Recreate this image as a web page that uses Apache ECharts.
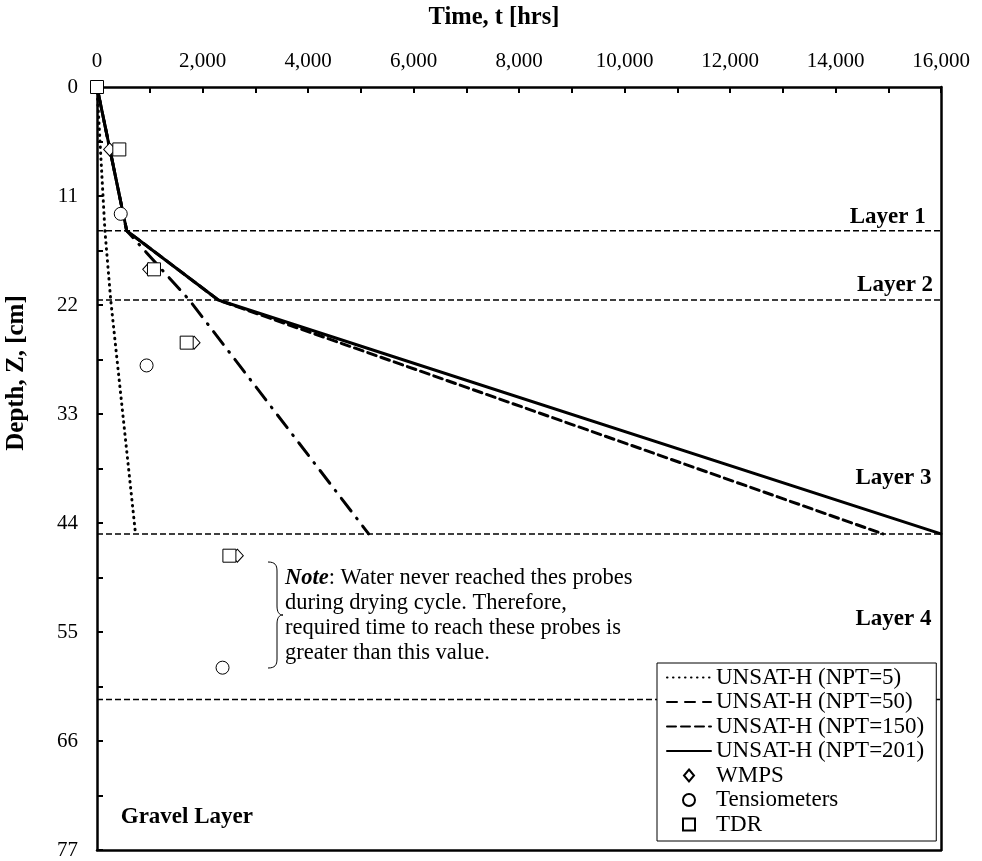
<!DOCTYPE html>
<html>
<head>
<meta charset="utf-8">
<script src="https://cdn.jsdelivr.net/npm/echarts@6/dist/echarts.min.js"></script>
<style>
html,body{margin:0;padding:0;background:#fff;}
#chart{width:982px;height:861px;}
</style>
</head>
<body>
<div id="chart"></div>
<script>
// ---- data ----
const layerDepths = [14.5, 21.5, 45.1, 61.8];
const layerNames = ['Layer 1', 'Layer 2', 'Layer 3', 'Layer 4', 'Gravel Layer'];

const npt5T   = [0, 150, 260, 730];
const npt5Z   = [0, 14.5, 21.5, 45.1];
const npt50T  = [0, 563, 1750, 5150];
const npt50Z  = [0, 14.5, 21.5, 45.1];
const npt150T = [0, 563, 2300, 14900];
const npt150Z = [0, 14.5, 21.5, 45.1];
const npt201T = [0, 563, 2300, 16000];
const npt201Z = [0, 14.5, 21.5, 45.1];

const wmpsT = [240, 980, 1840, 2660];
const wmpsZ = [6.3, 18.4, 25.8, 47.3];
const tensT = [450, 940, 2380];
const tensZ = [12.8, 28.1, 58.6];
const tdrT  = [0, 423, 1080, 1700, 2510];
const tdrZ  = [0, 6.3, 18.4, 25.8, 47.3];

const xMin = 0, xMax = 16000, xInterval = 2000;
const yMin = 0, yMax = 77, yInterval = 11;

// ---- helpers ----
const FONT = "'Liberation Serif','Times New Roman',serif";
function pairs(t, z) { return t.map((v, i) => [v, z[i]]); }
function fmt(v) { return v.toLocaleString('en-US'); }

const chart = echarts.init(document.getElementById('chart'));

const black = '#000';
const axisLineStyle = { lineStyle: { color: black, width: 2.5 } };
const RECT_ICON = 'path://M0,0L10,0L10,10L0,10Z';
const DIAMOND_ICON = 'path://M5,0L10,6L5,12L0,6Z';

const layerSeries = layerDepths.map((d, i) => ({
  name: 'layer' + i,
  type: 'line',
  data: [[xMin, d], [xMax, d]],
  symbol: 'none',
  silent: true,
  z: 1,
  lineStyle: { color: black, width: 1.5, type: [6, 3] }
}));

function lineSeries(name, t, z, lineType, width) {
  return {
    name: name, type: 'line', data: pairs(t, z), symbol: 'none', z: 3,
    lineStyle: { color: black, width: width, type: lineType, cap: 'round' },
    itemStyle: { color: black }
  };
}
function scatterSeries(name, t, z, symbol, size) {
  return {
    name: name, type: 'scatter', data: pairs(t, z), symbol: symbol, symbolSize: size,
    symbolKeepAspect: true, clip: false, z: 5,
    itemStyle: { color: '#fff', borderColor: black, borderWidth: 1, opacity: 1 }
  };
}

const labelPoint = (x, y, text, align) => ({
  value: [x, y],
  label: { show: true, formatter: text, position: [0, 0], align: align, verticalAlign: 'middle',
           fontFamily: FONT, fontWeight: 'bold', fontSize: 23, color: black }
});

const braceStyle = { fill: 'none', stroke: black, lineWidth: 1 };
const hideSym = { opacity: 0 };

const option = {
  animation: false,
  backgroundColor: '#fff',
  grid: { left: 97, right: 41, top: 87, bottom: 11, containLabel: false },
  xAxis: [{
    type: 'value', position: 'top', min: xMin, max: xMax, interval: xInterval,
    axisLine: Object.assign({ onZero: false }, axisLineStyle),
    axisTick: { show: true, inside: true, length: 6, lineStyle: { color: black, width: 2 } },
    minorTick: { show: true, splitNumber: 2, length: 6, lineStyle: { color: black, width: 2 } },
    axisLabel: { formatter: fmt, fontFamily: FONT, fontSize: 21, color: black, margin: 15,
                 showMinLabel: true, showMaxLabel: true },
    splitLine: { show: false }, minorSplitLine: { show: false }
  }, {
    type: 'value', position: 'bottom', min: xMin, max: xMax,
    axisLine: Object.assign({ onZero: false }, axisLineStyle),
    axisTick: { show: false }, axisLabel: { show: false }, splitLine: { show: false }
  }],
  yAxis: [{
    type: 'value', position: 'left', inverse: true, min: yMin, max: yMax, interval: yInterval,
    axisLine: Object.assign({ onZero: false }, axisLineStyle),
    axisTick: { show: true, inside: true, length: 6, lineStyle: { color: black, width: 2 } },
    minorTick: { show: true, splitNumber: 2, length: 6, lineStyle: { color: black, width: 2 } },
    axisLabel: { fontFamily: FONT, fontSize: 21, color: black, margin: 19,
                 showMinLabel: true, showMaxLabel: true },
    splitLine: { show: false }, minorSplitLine: { show: false }
  }, {
    type: 'value', position: 'right', inverse: true, min: yMin, max: yMax,
    axisLine: Object.assign({ onZero: false }, axisLineStyle),
    axisTick: { show: false }, axisLabel: { show: false }, splitLine: { show: false }
  }],
  legend: {
    orient: 'vertical', left: 657, top: 663,
    backgroundColor: '#fff', borderColor: black, borderWidth: 1,
    padding: [3, 12, 5, 9],
    itemWidth: 44, itemHeight: 12, itemGap: 1.5,
    textStyle: { fontFamily: FONT, fontSize: 23, color: black, lineHeight: 23 },
    data: [
      { name: 'UNSAT-H (NPT=5)', itemStyle: hideSym },
      { name: 'UNSAT-H (NPT=50)', itemStyle: hideSym, lineStyle: { type: [10, 8] } },
      { name: 'UNSAT-H (NPT=150)', itemStyle: hideSym },
      { name: 'UNSAT-H (NPT=201)', itemStyle: hideSym },
      { name: 'WMPS', icon: DIAMOND_ICON },
      { name: 'Tensiometers', icon: 'circle' },
      { name: 'TDR', icon: RECT_ICON }
    ]
  },
  series: layerSeries.concat([
    lineSeries('UNSAT-H (NPT=5)', npt5T, npt5Z, [0.5, 5.5], 3),
    lineSeries('UNSAT-H (NPT=50)', npt50T, npt50Z, [16, 9, 1, 9], 3),
    lineSeries('UNSAT-H (NPT=150)', npt150T, npt150Z, [9, 5], 3),
    lineSeries('UNSAT-H (NPT=201)', npt201T, npt201Z, 'solid', 3),
    scatterSeries('WMPS', wmpsT, wmpsZ, 'diamond', [12, 13]),
    scatterSeries('Tensiometers', tensT, tensZ, 'circle', 13),
    scatterSeries('TDR', tdrT, tdrZ, 'rect', 13),
    {
      name: 'labels', type: 'scatter', symbolSize: 0, silent: true, z: 6,
      itemStyle: { opacity: 1 },
      data: [
        labelPoint(15710, 13.1, layerNames[0], 'right'),
        labelPoint(15850, 20.0, layerNames[1], 'right'),
        labelPoint(15820, 39.5, layerNames[2], 'right'),
        labelPoint(15820, 53.7, layerNames[3], 'right'),
        labelPoint(450, 73.7, layerNames[4], 'left')
      ]
    }
  ]),
  graphic: [
    { type: 'text', x: 494, y: 18, style: { text: 'Time, t [hrs]', font: 'bold 24.5px ' + FONT, fill: black,
      textAlign: 'center', textVerticalAlign: 'middle' } },
    { type: 'text', x: 17, y: 373, rotation: Math.PI / 2, style: { text: 'Depth, Z, [cm]', font: 'bold 25px ' + FONT,
      fill: black, textAlign: 'center', textVerticalAlign: 'middle' } },
    { type: 'bezierCurve', shape: { x1: 268, y1: 562, x2: 277, y2: 571, cpx1: 275, cpy1: 562, cpx2: 277, cpy2: 565 }, style: braceStyle },
    { type: 'line', shape: { x1: 277, y1: 571, x2: 277, y2: 606 }, style: braceStyle },
    { type: 'bezierCurve', shape: { x1: 277, y1: 606, x2: 283, y2: 615, cpx1: 277, cpy1: 612, cpx2: 279, cpy2: 615 }, style: braceStyle },
    { type: 'bezierCurve', shape: { x1: 283, y1: 615, x2: 277, y2: 624, cpx1: 279, cpy1: 615, cpx2: 277, cpy2: 618 }, style: braceStyle },
    { type: 'line', shape: { x1: 277, y1: 624, x2: 277, y2: 659 }, style: braceStyle },
    { type: 'bezierCurve', shape: { x1: 277, y1: 659, x2: 268, y2: 668, cpx1: 277, cpy1: 665, cpx2: 275, cpy2: 668 }, style: braceStyle },
    { type: 'text', x: 285, y: 566, style: {
      text: '{bi|Note}: Water never reached thes probes\nduring drying cycle. Therefore,\nrequired time to reach these probes is\ngreater than this value.',
      font: '22.5px ' + FONT, fill: black, lineHeight: 25,
      rich: { bi: { fontStyle: 'italic', fontWeight: 'bold', fontFamily: FONT, fontSize: 22.5, lineHeight: 25 } }
    } }
  ]
};
chart.setOption(option);
</script>
</body>
</html>
